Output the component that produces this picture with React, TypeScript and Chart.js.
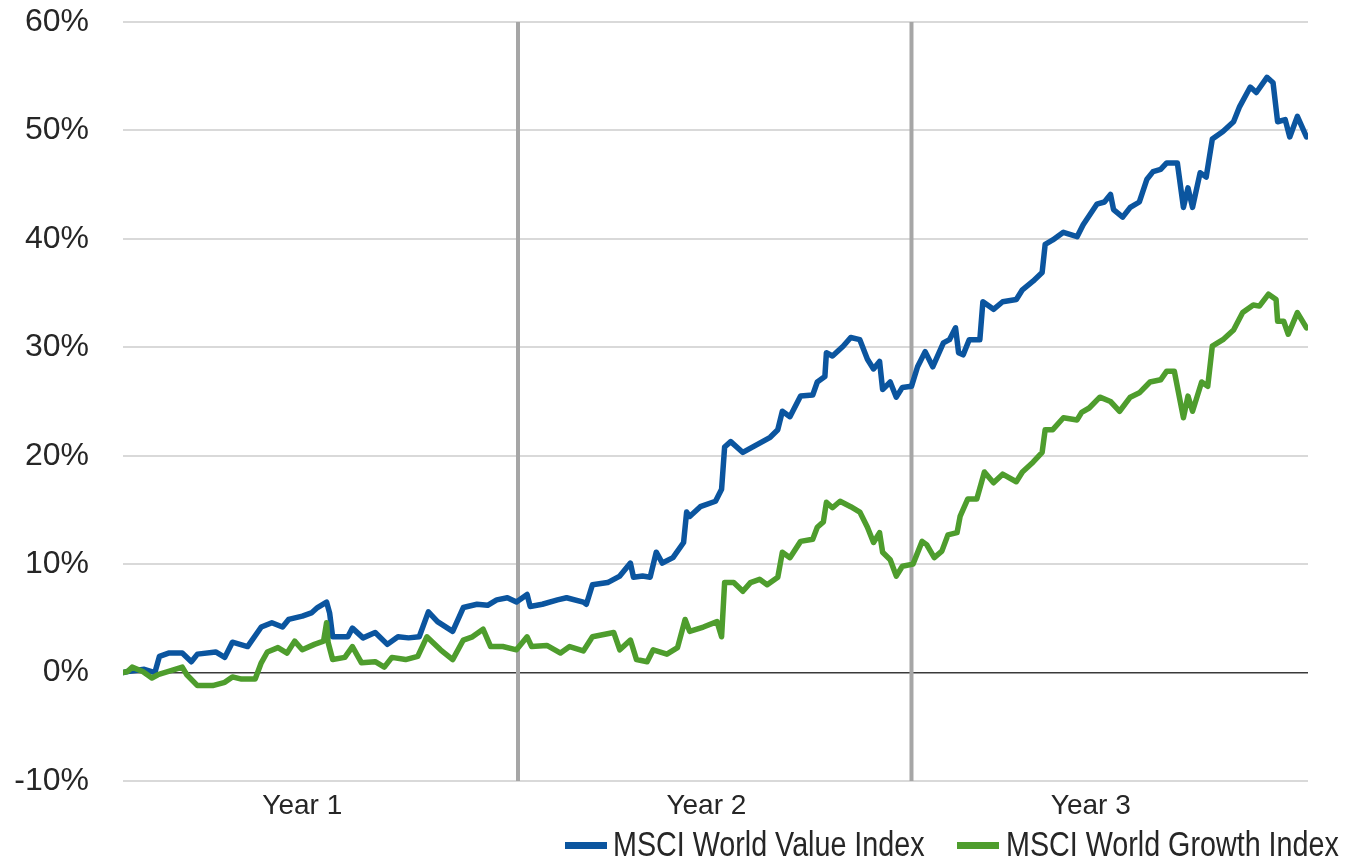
import React, { useEffect, useRef } from "react";
import { Chart, registerables } from "chart.js";

Chart.register(...registerables);

// Trading-day index (0..780 over three years) and cumulative return in %
const valueDays = [0,3,14,21,24,30,39,45,49,61,67,72,82,91,98,105,109,118,124,128,134,136,138,148,151,158,166,174,181,188,195,201,207,217,224,233,240,246,253,259,266,268,276,286,292,303,305,309,319,327,334,336,342,347,351,355,362,369,371,373,380,390,394,396,400,408,417,426,431,434,439,446,454,457,462,463,467,474,479,485,490,494,498,500,505,509,513,519,523,528,533,540,544,548,550,553,557,564,566,573,579,588,592,599,605,607,612,619,628,632,641,646,650,652,658,663,669,674,678,683,687,694,698,701,704,709,713,717,724,731,735,742,746,753,757,760,765,768,773,779];
const valueReturns = [0,0.1,0.3,0.0,1.5,1.8,1.8,1.0,1.7,1.9,1.4,2.8,2.4,4.2,4.6,4.2,4.9,5.2,5.5,6.0,6.5,5.5,3.3,3.3,4.1,3.2,3.7,2.6,3.3,3.2,3.3,5.6,4.7,3.8,6.0,6.3,6.2,6.7,6.9,6.5,7.2,6.1,6.3,6.7,6.9,6.5,6.3,8.1,8.3,8.9,10.1,8.8,8.9,8.8,11.1,10.1,10.6,12.0,14.8,14.4,15.3,15.8,16.9,20.8,21.3,20.3,21.0,21.7,22.4,24.1,23.6,25.5,25.6,26.8,27.3,29.5,29.2,30.1,30.9,30.7,28.9,28.0,28.7,26.1,26.8,25.4,26.3,26.4,28.2,29.6,28.2,30.4,30.7,31.8,29.5,29.3,30.7,30.7,34.2,33.5,34.2,34.4,35.3,36.1,36.9,39.5,39.9,40.6,40.2,41.3,43.2,43.4,44.1,42.7,42.0,42.9,43.4,45.5,46.2,46.4,47.0,47.0,42.9,44.7,42.9,46.1,45.7,49.2,49.9,50.8,52.2,54.0,53.5,54.9,54.4,50.8,51.0,49.4,51.3,49.4];

const growthDays = [0,3,6,13,19,23,30,39,42,49,59,67,72,78,87,91,95,102,108,113,118,126,132,134,135,138,146,151,157,166,172,177,186,194,200,209,217,224,230,237,242,250,259,266,269,279,288,294,303,309,323,327,334,338,345,349,358,365,370,373,382,391,394,396,402,408,413,419,424,431,434,439,446,454,457,461,463,467,472,479,485,490,494,498,500,505,509,513,520,526,529,534,539,543,549,551,556,562,567,573,579,588,592,599,605,607,612,619,628,631,636,643,650,656,663,669,676,683,687,692,698,701,704,710,714,717,724,731,737,744,748,754,759,760,764,767,773,779];
const growthReturns = [0,0.1,0.5,0.1,-0.5,-0.2,0.1,0.5,-0.2,-1.2,-1.2,-0.9,-0.4,-0.6,-0.6,0.9,1.9,2.3,1.8,2.9,2.1,2.6,2.9,4.6,2.8,1.2,1.4,2.4,0.9,1.0,0.5,1.4,1.2,1.5,3.3,2.1,1.2,3.0,3.3,4.0,2.4,2.4,2.1,3.3,2.4,2.5,1.8,2.4,2.0,3.3,3.7,2.1,3.0,1.2,1.0,2.1,1.7,2.3,4.9,3.8,4.2,4.7,3.3,8.3,8.3,7.5,8.3,8.6,8.1,8.8,11.1,10.6,12.1,12.3,13.4,13.9,15.7,15.2,15.8,15.3,14.8,13.4,12.0,12.9,11.1,10.4,8.9,9.8,10.0,12.1,11.8,10.6,11.2,12.7,12.9,14.4,16.0,16.0,18.5,17.5,18.3,17.6,18.5,19.4,20.3,22.4,22.4,23.5,23.3,24.0,24.4,25.4,25.0,24.1,25.4,25.8,26.8,27.0,27.8,27.8,23.5,25.5,24.1,26.8,26.4,30.1,30.7,31.6,33.2,33.9,33.8,34.9,34.4,32.4,32.4,31.2,33.2,31.8];

const yearLabels = ["Year 1", "Year 2", "Year 3"];
const yearLabelDays = [118, 384, 637];
const yearBoundaryDays = [260, 519];
const seriesNames = ["MSCI World Value Index", "MSCI World Growth Index"];

const BLUE = "#0b559f";
const GREEN = "#4e9d2d";

const yearLinesPlugin = {
  id: "yearLines",
  beforeDatasetsDraw(chart: any) {
    const { ctx, chartArea, scales } = chart;
    ctx.save();
    ctx.strokeStyle = "#a6a6a6";
    ctx.lineWidth = 4;
    yearBoundaryDays.forEach((d) => {
      const x = scales.x.getPixelForValue(d);
      ctx.beginPath();
      ctx.moveTo(x, chartArea.top);
      ctx.lineTo(x, chartArea.bottom);
      ctx.stroke();
    });
    ctx.restore();
  },
};

export default function App() {
  const canvasRef = useRef<HTMLCanvasElement | null>(null);

  useEffect(() => {
    if (!canvasRef.current) return;
    const chart = new Chart(canvasRef.current, {
      type: "line",
      data: {
        datasets: [
          {
            label: seriesNames[1],
            data: growthDays.map((d, i) => ({ x: d, y: growthReturns[i] })),
            borderColor: GREEN,
            backgroundColor: GREEN,
            borderWidth: 5.5,
            pointRadius: 0,
            tension: 0,
            borderJoinStyle: "round",
            borderCapStyle: "round",
          },
          {
            label: seriesNames[0],
            data: valueDays.map((d, i) => ({ x: d, y: valueReturns[i] })),
            borderColor: BLUE,
            backgroundColor: BLUE,
            borderWidth: 5.5,
            pointRadius: 0,
            tension: 0,
            borderJoinStyle: "round",
            borderCapStyle: "round",
          },
        ],
      },
      options: {
        animation: false,
        responsive: false,
        maintainAspectRatio: false,
        layout: { padding: { top: 22, right: 40, left: 0, bottom: 0 } },
        plugins: {
          legend: { display: false },
          tooltip: { enabled: false },
        },
        scales: {
          x: {
            type: "linear",
            min: 0,
            max: 780,
            grid: { display: false },
            border: { display: false },
            afterBuildTicks: (scale: any) => {
              scale.ticks = yearLabelDays.map((v) => ({ value: v }));
            },
            afterFit: (scale: any) => {
              scale.height = 83;
              scale.paddingLeft = 0;
              scale.paddingRight = 0;
            },
            ticks: {
              autoSkip: false,
              maxRotation: 0,
              padding: 0,
              color: "#262626",
              font: { family: "'Liberation Sans', Arial, sans-serif", size: 28 },
              callback: (_v: any, i: number) => yearLabels[i],
            },
          },
          y: {
            min: -10,
            max: 60,
            border: { display: false },
            afterFit: (scale: any) => {
              scale.width = 123;
              scale.paddingTop = 0;
              scale.paddingBottom = 0;
            },
            grid: {
              drawTicks: false,
              color: (ctx: any) => (ctx.tick && ctx.tick.value === 0 ? "#3a3a3a" : "#d9d9d9"),
              lineWidth: (ctx: any) => (ctx.tick && ctx.tick.value === 0 ? 1.5 : 2),
            },
            ticks: {
              stepSize: 10,
              padding: 34,
              color: "#262626",
              font: { family: "'Liberation Sans', Arial, sans-serif", size: 32 },
              callback: (v: any) => v + "%",
            },
          },
        },
      },
      plugins: [yearLinesPlugin],
    });
    return () => chart.destroy();
  }, []);

  const textStyle: React.CSSProperties = {
    position: "absolute",
    top: 826,
    fontFamily: "'Liberation Sans', Arial, sans-serif",
    fontSize: 35,
    lineHeight: "35px",
    color: "#262626",
    whiteSpace: "nowrap",
    transform: "scaleX(0.82)",
    transformOrigin: "left center",
  };
  const markerStyle = (color: string, left: number): React.CSSProperties => ({
    position: "absolute",
    left,
    top: 842,
    width: 42,
    height: 7,
    background: color,
  });

  return (
    <div style={{ position: "fixed", left: 0, top: 0, width: 1348, height: 864, background: "#fff" }}>
      <canvas ref={canvasRef} width={1348} height={864} style={{ display: "block" }} />
      <div style={markerStyle(BLUE, 565)} />
      <div style={{ ...textStyle, left: 613 }}>{seriesNames[0]}</div>
      <div style={markerStyle(GREEN, 957)} />
      <div style={{ ...textStyle, left: 1006 }}>{seriesNames[1]}</div>
    </div>
  );
}
